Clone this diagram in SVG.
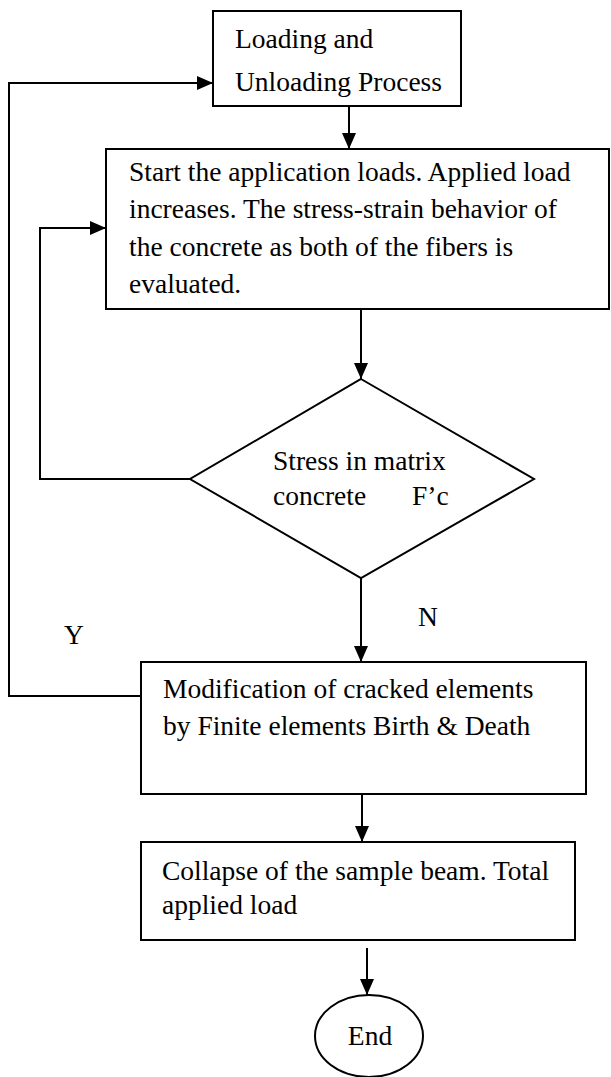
<svg xmlns="http://www.w3.org/2000/svg" width="611" height="1077" viewBox="0 0 611 1077">
<style>
.box{fill:#fff;stroke:#000;stroke-width:2}
.ln{fill:none;stroke:#000;stroke-width:2}
.t{font-family:"Liberation Serif","Times New Roman",serif;font-size:27.5px;fill:#000}
</style>
<defs>
<marker id="ah" markerUnits="userSpaceOnUse" markerWidth="16" markerHeight="14" refX="16" refY="7" orient="auto">
<path d="M0,0 L16,7 L0,14 Z" fill="#000"/>
</marker>
</defs>
<g id="connectors">
<path class="ln" d="M349,106 V149" marker-end="url(#ah)"/>
<path class="ln" d="M361,309 V379" marker-end="url(#ah)"/>
<path class="ln" d="M361,578 V662" marker-end="url(#ah)"/>
<path class="ln" d="M362,794 V842" marker-end="url(#ah)"/>
<path class="ln" d="M367,948 V995" marker-end="url(#ah)"/>
<path class="ln" d="M190,479 H40 V228 H106" marker-end="url(#ah)"/>
<path class="ln" d="M141,696 H9 V83 H213" marker-end="url(#ah)"/>
<text class="t" x="418" y="626">N</text>
<text class="t" x="64" y="644">Y</text>
</g>
<g id="n1">
<rect class="box" x="213" y="11" width="248" height="95"/>
<text class="t" x="235" y="48">Loading and</text>
<text class="t" x="235" y="91">Unloading Process</text>
</g>
<g id="n2">
<rect class="box" x="106" y="149" width="503" height="160"/>
<text class="t" x="129" y="181">Start the application loads. Applied load</text>
<text class="t" x="129" y="218">increases. The stress-strain behavior of</text>
<text class="t" x="129" y="256">the concrete as both of the fibers is</text>
<text class="t" x="129" y="293">evaluated.</text>
</g>
<g id="n3">
<polygon class="box" points="361,379 534,479 361,578 190,479"/>
<text class="t" x="273" y="470">Stress in matrix</text>
<text class="t" x="273" y="505">concrete</text>
<text class="t" x="412" y="505">F’c</text>
</g>
<g id="n4">
<rect class="box" x="141" y="662" width="445" height="132"/>
<text class="t" x="163" y="698">Modification of cracked elements</text>
<text class="t" x="163" y="735">by Finite elements Birth &amp; Death</text>
</g>
<g id="n5">
<rect class="box" x="141" y="842" width="434" height="98"/>
<text class="t" x="162" y="880">Collapse of the sample beam. Total</text>
<text class="t" x="162" y="914">applied load</text>
</g>
<g id="n6">
<ellipse class="box" cx="369" cy="1036" rx="54" ry="41"/>
<text class="t" x="370" y="1045" text-anchor="middle">End</text>
</g>
</svg>
